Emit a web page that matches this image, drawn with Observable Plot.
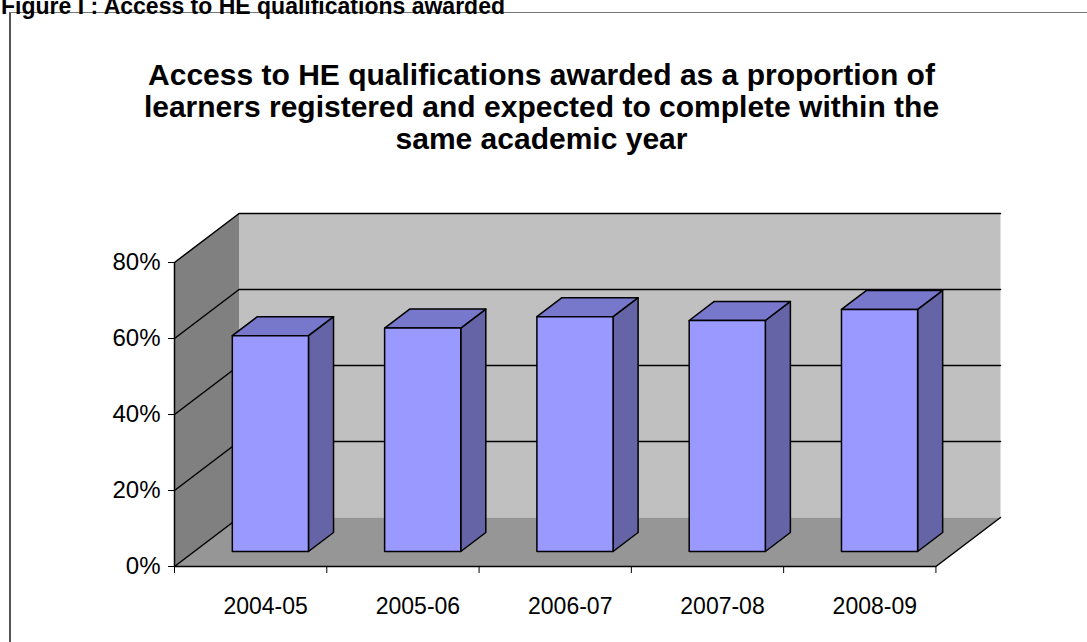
<!DOCTYPE html>
<html><head><meta charset="utf-8">
<script src="https://cdn.jsdelivr.net/npm/d3@7"></script>
<script src="https://cdn.jsdelivr.net/npm/@observablehq/plot@0.6"></script>
<style>
body{margin:0;background:#fff;font-family:"Liberation Sans",Arial,sans-serif;}
#wrap{position:relative;width:1087px;height:642px;overflow:hidden;}
#fig{position:absolute;left:1px;top:-7px;font-weight:bold;font-size:23px;white-space:nowrap;color:#000;}
#box{position:absolute;left:9px;top:12px;width:1200px;height:800px;border-left:2px solid #555;border-top:1.5px solid #777;}
#title{position:absolute;left:0;width:1083px;top:59px;text-align:center;font-weight:bold;font-size:30px;line-height:32px;color:#000;}
#chart{position:absolute;left:0;top:0;}
</style></head><body>
<div id="wrap">
 <div id="box"></div>
 <div id="fig">Figure I : Access to HE qualifications awarded</div>
 <div id="title">Access to HE qualifications awarded as a proportion of<br>learners registered and expected to complete within the<br>same academic year</div>
 <div id="chart"></div>
</div>
<script>
const categories = ["2004-05", "2005-06", "2006-07", "2007-08", "2008-09"];
const values = [56.8, 58.8, 61.8, 60.8, 63.7];
const yTicks = [0, 20, 40, 60, 80];

const frontC = "#9999FF", topC = "#7777CB", sideC = "#6464A6";
const DX = 0.424, DY = 12.9;     // depth vector (data units)
const D0 = 0.306, D1 = 0.694;    // bar depth span
const BW = 0.5;                  // bar width fraction

const xMax = categories.length;
const yTop = yTicks[yTicks.length - 1];
const P = (x, y, d) => ({x: x + d * DX, y: y + d * DY});
const face = (id, fill, pts) => pts.map(p => ({...p, id, fill}));

const walls = [
  ...face("back", "#C0C0C0", [P(0,0,1), P(xMax,0,1), P(xMax,yTop,1), P(0,yTop,1)]),
  ...face("side", "#808080", [P(0,0,0), P(0,yTop,0), P(0,yTop,1), P(0,0,1)]),
  ...face("floor", "#969696", [P(0,0,0), P(xMax,0,0), P(xMax,0,1), P(0,0,1)])
];
const grid = yTicks.flatMap(t => (t === 0 ? [P(0,0,0), P(0,0,1)] : [P(0,t,0), P(0,t,1), P(xMax,t,1)]).map(p => ({...p, id: "g" + t})));
const floorEdge = [P(0,0,0), P(xMax,0,0), P(xMax,0,1)];
const bars = values.flatMap((v, i) => {
  const a = i + (1 - BW) / 2, b = i + (1 + BW) / 2;
  return [
    ...face("s" + i, sideC, [P(b,0,D0), P(b,0,D1), P(b,v,D1), P(b,v,D0)]),
    ...face("t" + i, topC, [P(a,v,D0), P(b,v,D0), P(b,v,D1), P(a,v,D1)]),
    ...face("f" + i, frontC, [P(a,0,D0), P(b,0,D0), P(b,v,D0), P(a,v,D0)])
  ];
});

const chart = Plot.plot({
  width: 1087, height: 642,
  marginLeft: 174, marginRight: 87, marginTop: 213, marginBottom: 76,
  x: {domain: [0, xMax + DX]},
  y: {domain: [0, yTop + DY]},
  color: {type: "identity"},
  style: {fontFamily: "'Liberation Sans', Arial, sans-serif", background: "transparent", color: "#000"},
  marks: [
    Plot.line(walls, {x: "x", y: "y", z: "id", fill: "fill", stroke: "none", curve: "linear-closed"}),
    Plot.line(grid, {x: "x", y: "y", z: "id", stroke: "#000", strokeWidth: 1.5}),
    Plot.line(floorEdge, {x: "x", y: "y", stroke: "#000", strokeWidth: 1.5}),
    Plot.ruleX([0], {y1: 0, y2: yTop, stroke: "#000", strokeWidth: 1.5}),
    Plot.line(bars, {x: "x", y: "y", z: "id", fill: "fill", stroke: "#000", strokeWidth: 1.5, strokeLinejoin: "round", curve: "linear-closed"}),
    Plot.axisY({ticks: yTicks, tickFormat: d => d + "%", tickSize: 6, tickPadding: 8, fontSize: 24, label: null}),
    Plot.axisX({ticks: d3.range(xMax + 1), tickSize: 7, tickFormat: () => "", label: null}),
    Plot.axisX({ticks: categories.map((c, i) => i + 0.5), tickSize: 0, tickPadding: 31, dx: 15, tickFormat: d => categories[Math.floor(d)], fontSize: 23, label: null})
  ]
});
document.getElementById("chart").appendChild(chart);
</script>
</body></html>
